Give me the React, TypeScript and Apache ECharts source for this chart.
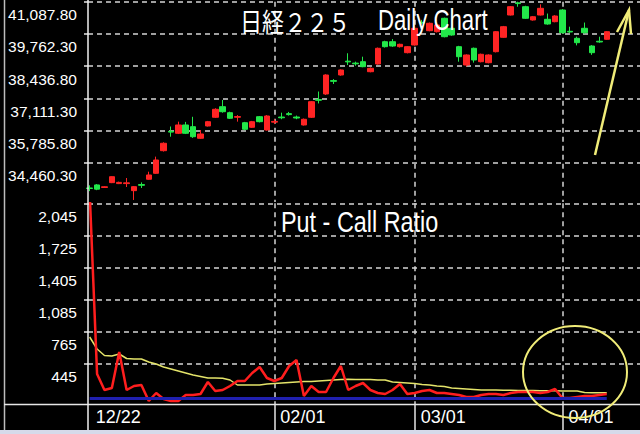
import React, { useEffect, useRef } from 'react';
import * as echarts from 'echarts';

// ---- data ----
const dates = [
  '12/22','12/25','12/26','12/27','12/28','12/29',
  '01/04','01/05','01/09','01/10','01/11','01/12','01/15','01/16','01/17','01/18','01/19','01/22','01/23','01/24','01/25','01/26','01/29','01/30','01/31',
  '02/01','02/02','02/05','02/06','02/07','02/08','02/09','02/13','02/14','02/15','02/16','02/19','02/20','02/21','02/22','02/26','02/27','02/28','02/29',
  '03/01','03/04','03/05','03/06','03/07','03/08','03/11','03/12','03/13','03/14','03/15','03/18','03/19','03/21','03/22','03/25','03/26','03/27','03/28','03/29',
  '04/01','04/02','04/03','04/04','04/05','04/08','04/09',
  '04/10','04/11','04/12','04/15'
];

const opens = [33420,33545,33440,33640,33600,33600,33310,33560,33778,34024,34955,35750,35671,36013,35943,35465,35972,36330,36766,36519,36330,36107,35918,36354,35807,
  36130,36340,36480,36340,36013,36330,37060,37289,37840,38071,38640,38560,38618,38206,38523,39441,39441,39236,38989,
  39306,40240,39894,39853,40405,39993,39236,38482,39170,38618,38577,39030,39622,40540,41040,40882,40335,40540,40363,40265,
  40746,39870,39581,39993,39264,39460,39540];
const closes = [33400,33370,33470,33885,33650,33630,33474,33530,33955,34572,35260,35720,36013,35671,35531,35642,36149,36659,36560,36289,36360,35836,36149,36149,36383,
  36160,36310,36440,36300,36247,36972,37030,38071,37810,38277,38610,38530,38412,38346,39170,39236,39264,39334,39236,
  39993,40210,40199,40129,39647,39717,38824,38894,38688,38923,38894,39853,40059,40882,41010,40405,40470,40816,40170,40499,
  39812,39840,39400,39812,38989,39430,39853];
const lows = [33290,33330,33420,33620,33580,33460,32926,33420,33760,34000,34920,35530,35640,35640,35480,35440,35950,36300,36520,36260,36150,35800,35890,36120,35780,
  36050,36250,36400,36250,35990,36300,36900,37250,37700,38040,38480,38450,38390,38180,38500,39200,39230,39200,38960,
  39280,40150,39870,39820,39620,39690,38618,38420,38580,38590,38550,39000,39600,40520,40880,40380,40310,40520,40140,40240,
  39780,39800,39290,39780,38900,39400,39520];
const highs = [33530,33580,33490,33900,33680,33830,33500,33650,34090,34710,35300,35950,36150,36140,36350,35800,36180,36700,37042,36560,36420,36140,36180,36380,36420,
  36250,36520,36550,36400,36280,37000,37390,38100,37900,38300,38965,38620,38824,38380,39200,39480,39550,39360,39260,
  40129,40340,40230,40160,40430,40060,39270,38920,39200,38950,38920,39880,40090,40910,41088,40920,40500,40980,40600,40530,
  40780,40059,39650,40230,39300,39647,39880];

const putCallRatio = [2150,338,178,198,558,178,218,228,68,148,88,68,68,128,128,138,258,168,178,218,268,268,348,408,298,
  268,298,418,478,118,218,158,158,298,418,178,218,248,178,148,138,178,238,138,
  148,168,178,148,148,138,128,108,108,128,138,138,128,148,158,158,158,148,158,188,
  98,98,108,118,118,128,138];
const putCallAverage = [708,588,523,518,538,493,488,488,458,438,408,388,368,348,328,313,298,298,295,278,228,228,228,228,238,
  243,248,253,258,263,263,268,273,278,283,285,283,283,283,278,278,258,253,248,
  243,233,228,218,213,198,193,188,183,178,178,178,175,175,173,173,173,171,171,170,
  168,168,168,153,151,151,151];
const baseLevel = 100;

const priceTickLabels = ['41,087.80','39,762.30','38,436.80','37,111.30','35,785.80','34,460.30'];
const ratioTickLabels = ['2,045','1,725','1,405','1,085','765','445'];
const dateLabels = ['12/22','02/01','03/01','04/01'];

const priceMax = 41087.8;
const priceStep = 1325.5;
const ratioMax = 2045;
const ratioStep = 320;

// ---- layout ----
const topY = 1.7;
const stepPxTop = 32.2;
const topDataH = 200.3;
const lowY = 203.3;
const stepPxLow = 32;
const lowDataH = 200.7;

const sans = "'Liberation Sans', Arial, sans-serif";
const gridDash = { color: '#d4d4d4', width: 1.5, type: [5, 4] as number[] };

export default function App() {
  const ref = useRef<HTMLDivElement>(null);
  useEffect(() => {
    const chart = echarts.init(ref.current as HTMLDivElement, null, { renderer: 'svg' });
    const priceMin = priceMax - (topDataH / stepPxTop) * priceStep;
    const ratioMin = ratioMax - (lowDataH / stepPxLow) * ratioStep;
    const candles = opens.map((o, i) => [o, closes[i], lows[i], highs[i]]);
    const isDateLabel = (_i: number, v: string) => dateLabels.includes(v);
    const isGridDate = (_i: number, v: string) => v !== dateLabels[0] && dateLabels.includes(v);

    const yLabel = { show: true, interval: 0, color: '#ffffff', fontSize: 15.5, fontFamily: sans, margin: 11, verticalAlign: 'top', padding: [5, 0, 0, 0] };

    const option: any = {
      animation: false,
      backgroundColor: '#000',
      grid: [
        { left: 86, right: 0, top: topY, height: topDataH },
        { left: 86, right: 0, top: lowY, height: lowDataH },
        { left: 88, right: 0, top: topY, height: stepPxTop * (priceTickLabels.length - 1) },
        { left: 88, right: 0, top: lowY, height: stepPxLow * (ratioTickLabels.length - 1) },
      ],
      xAxis: [
        {
          type: 'category', gridIndex: 0, data: dates, boundaryGap: true,
          axisLine: { show: false }, axisTick: { show: false }, axisLabel: { show: false },
          splitLine: { show: true, alignWithLabel: true, interval: isGridDate, lineStyle: gridDash },
        },
        {
          type: 'category', gridIndex: 1, data: dates, boundaryGap: true,
          axisLine: { show: false },
          axisTick: { show: true, alignWithLabel: true, length: 26, interval: isGridDate, lineStyle: { color: '#e6e6e6', width: 1.5 } },
          axisLabel: { show: true, interval: isDateLabel, color: '#ffffff', fontSize: 18, fontFamily: sans, align: 'left', padding: [0, 0, 0, 6], margin: 4 },
          splitLine: { show: true, alignWithLabel: true, interval: isGridDate, lineStyle: gridDash },
        },
        { type: 'value', gridIndex: 2, show: false, min: 0, max: 1 },
        { type: 'value', gridIndex: 3, show: false, min: 0, max: 1 },
      ],
      yAxis: [
        { type: 'value', gridIndex: 0, show: false, min: priceMin, max: priceMax, splitLine: { show: false } },
        { type: 'value', gridIndex: 1, show: false, min: ratioMin, max: ratioMax, splitLine: { show: false } },
        {
          type: 'category', gridIndex: 2, data: [...priceTickLabels].reverse(), boundaryGap: false,
          axisLine: { show: false },
          axisTick: { show: true, length: 4, lineStyle: { color: '#e6e6e6', width: 1.5 } },
          axisLabel: yLabel,
          splitLine: { show: true, interval: 0, lineStyle: gridDash },
        },
        {
          type: 'category', gridIndex: 3, data: [...ratioTickLabels].reverse(), boundaryGap: false,
          axisLine: { show: false },
          axisTick: { show: true, length: 4, lineStyle: { color: '#e6e6e6', width: 1.5 } },
          axisLabel: yLabel,
          splitLine: { show: true, interval: 0, lineStyle: gridDash },
        },
      ],
      series: [
        {
          type: 'candlestick', name: '日経225', xAxisIndex: 0, yAxisIndex: 0, data: candles, barWidth: 6,
          itemStyle: { color: '#ff2424', color0: '#22e84a', borderColor: '#ff2424', borderColor0: '#22e84a', borderWidth: 1 },
          z: 3,
        },
        {
          type: 'line', name: 'Average', xAxisIndex: 1, yAxisIndex: 1, data: putCallAverage, symbol: 'none',
          lineStyle: { color: '#e4e46a', width: 1.5 }, z: 3,
          markLine: {
            silent: true, symbol: ['none', 'none'], label: { show: false },
            lineStyle: { color: '#2020b0', width: 3, type: 'solid' },
            data: [[{ coord: [dates[0], baseLevel] }, { coord: [dates[putCallRatio.length - 1], baseLevel] }]],
          },
        },
        {
          type: 'line', name: 'Put - Call Ratio', xAxisIndex: 1, yAxisIndex: 1, data: putCallRatio, symbol: 'none',
          lineStyle: { color: '#ff1e1e', width: 2.5 }, z: 4,
        },
      ],
      graphic: [
        { type: 'rect', shape: { x: 0, y: 430, width: 640, height: 4 }, style: { fill: '#d6daea' }, z: 50 },
        { type: 'line', shape: { x1: 4.5, y1: 0, x2: 4.5, y2: 430 }, style: { stroke: '#bdbdbd', lineWidth: 1.5 }, z: 50 },
        { type: 'line', shape: { x1: 4, y1: 404.5, x2: 640, y2: 404.5 }, style: { stroke: '#e6e6e6', lineWidth: 1.5 }, z: 50 },
        { type: 'line', shape: { x1: 88, y1: 0, x2: 88, y2: 430 }, style: { stroke: '#f0f0f0', lineWidth: 1.5 }, z: 50 },
        { type: 'text', x: 240, y: 8, scaleX: 0.85, z: 60, style: { text: '日経２２５', fill: '#ffffff', fontSize: 26, fontFamily: "'Noto Sans CJK JP', sans-serif", verticalAlign: 'top' } },
        { type: 'text', x: 378, y: 5, scaleX: 0.74, z: 60, style: { text: 'Daily Chart', fill: '#ffffff', fontSize: 30, fontFamily: sans, verticalAlign: 'top' } },
        { type: 'text', x: 281, y: 207, scaleX: 0.78, z: 60, style: { text: 'Put - Call Ratio', fill: '#ffffff', fontSize: 30, fontFamily: sans, verticalAlign: 'top' } },
        { type: 'line', shape: { x1: 595, y1: 155, x2: 629, y2: 10 }, style: { stroke: '#f0ec78', lineWidth: 2.5 }, z: 60 },
        { type: 'polyline', shape: { points: [[617, 32], [629, 10], [631, 34]] }, style: { stroke: '#f0ec78', lineWidth: 2.5, fill: null }, z: 60 },
        { type: 'ellipse', shape: { cx: 575, cy: 372, rx: 52, ry: 46 }, style: { stroke: '#f0ec78', lineWidth: 2, fill: 'rgba(0,0,0,0)' }, z: 60 },
      ],
    };
    chart.setOption(option);
    return () => chart.dispose();
  }, []);
  return <div ref={ref} style={{ position: 'fixed', left: 0, top: 0, width: 640, height: 434 }} />;
}
